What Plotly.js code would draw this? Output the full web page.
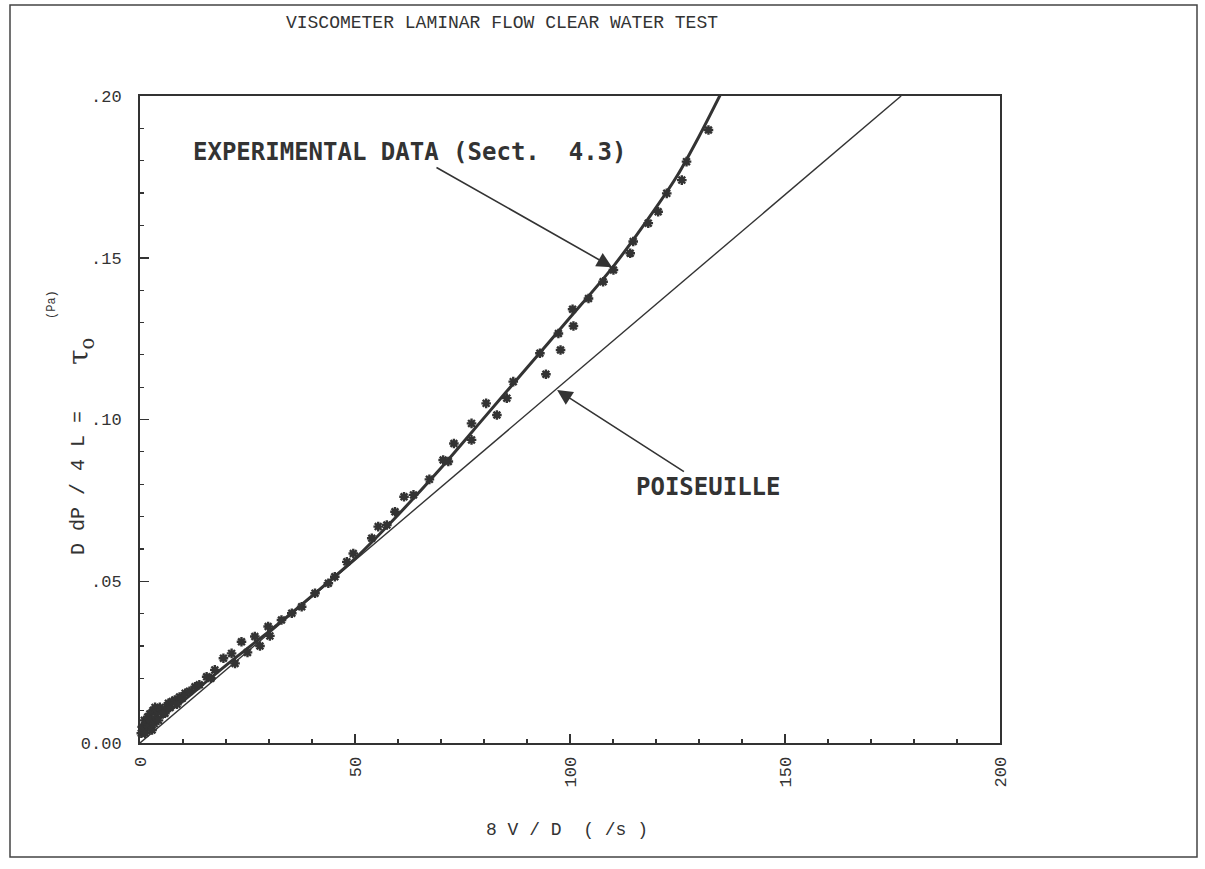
<!DOCTYPE html>
<html>
<head>
<meta charset="utf-8">
<script src="https://cdn.plot.ly/plotly-3.0.1.min.js"></script>
<style>
  html, body { margin: 0; padding: 0; background: #ffffff; }
  #chart { width: 1205px; height: 869px; }
</style>
</head>
<body>
<div id="chart"></div>
<script>
// Measured wall shear stress vs. flow rate parameter (clear water, laminar)
const dataX = [0.3, 0.5, 0.8, 1.0, 1.2, 1.5, 1.8, 2.0, 2.3, 2.5, 2.8, 3.0, 3.3, 3.5, 3.8, 4.0, 4.3, 4.6,
  5.0, 5.3, 5.8, 6.2, 6.6, 7.0, 7.5, 8.1, 8.6, 9.2, 9.8, 10.5, 11.5, 12.8, 13.8, 15.5, 16.5, 17.4,
  19.4, 21.3, 22.1, 23.6, 25.0, 26.7, 27.9, 29.8, 30.2, 32.9, 35.3, 37.6, 40.7, 43.8, 45.3, 48.1,
  49.6, 53.9, 55.4, 57.4, 59.3, 61.4, 63.6, 67.3, 70.5, 71.7, 73.0, 77.1, 77.1, 80.5, 83.0, 85.3,
  86.8, 93.0, 94.4, 97.3, 97.8, 100.6, 100.8, 104.3, 107.7, 110.1, 114.0, 114.7, 118.2, 120.5,
  122.5, 126.0, 127.1, 132.2, 134.9];
const dataY = [0.003, 0.005, 0.004, 0.007, 0.003, 0.006, 0.008, 0.005, 0.009, 0.007, 0.004, 0.010, 0.006, 0.011, 0.008, 0.010, 0.007, 0.011,
  0.0102, 0.009, 0.0092, 0.011, 0.0123, 0.011, 0.0128, 0.0133, 0.012, 0.0142, 0.0138, 0.0154, 0.016, 0.0174, 0.018, 0.0205, 0.020, 0.0226,
  0.0262, 0.0277, 0.0246, 0.0313, 0.028, 0.0329, 0.0300, 0.0360, 0.0331, 0.0380, 0.0401, 0.0421, 0.0463, 0.0494, 0.0514, 0.0560,
  0.0586, 0.0633, 0.0669, 0.0674, 0.0715, 0.0761, 0.0767, 0.0815, 0.0875, 0.0870, 0.0926, 0.0937, 0.0988, 0.1050, 0.1014, 0.1066,
  0.1117, 0.1205, 0.1140, 0.1266, 0.1215, 0.1341, 0.1289, 0.1374, 0.1426, 0.1462, 0.1514, 0.1550, 0.1607, 0.1642,
  0.1699, 0.1740, 0.1797, 0.1895, 0.2003];

// Smooth curve through the experimental data
const curveX = [0, 5, 10, 15, 20, 30, 40, 50, 60, 70, 80, 90, 100, 110, 120, 125, 130, 135];
const curveY = [0.003, 0.0082, 0.013, 0.0185, 0.024, 0.0345, 0.0455, 0.0570, 0.0705, 0.0850, 0.1005, 0.1160, 0.1315, 0.1472, 0.1655, 0.1755, 0.1875, 0.2005];

// Poiseuille (Newtonian laminar) line
const poisX = [0, 177];
const poisY = [0, 0.2];

// Axis ticks
const xTickVals = [0, 50, 100, 150, 200];
const xTickText = ['0', '50', '100', '150', '200'];
const yTickVals = [0, 0.05, 0.10, 0.15, 0.20];
const yTickText = ['0.00', '.05', '.10', '.15', '.20'];

const ink = '#333333';
const mono = '"Liberation Mono", "DejaVu Sans Mono", monospace';
const monoBold = '"DejaVu Sans Mono", "Liberation Mono", monospace';

// plot-area geometry helpers (pixels -> paper fractions)
const L = 140, R = 1000, T = 96, B = 743;
const px = v => (v - L) / (R - L);
const py = v => (B - v) / (B - T);

const traces = [
  {
    x: poisX, y: poisY, type: 'scatter', mode: 'lines',
    line: { color: ink, width: 1.4 }, hoverinfo: 'skip'
  },
  {
    x: curveX, y: curveY, type: 'scatter', mode: 'lines',
    line: { color: ink, width: 3, shape: 'spline', smoothing: 0.8 }, hoverinfo: 'skip'
  },
  {
    x: dataX, y: dataY, type: 'scatter', mode: 'markers', cliponaxis: false,
    marker: { symbol: 'asterisk', size: 8, color: ink, line: { color: ink, width: 2.4 } }
  }
];

const layout = {
  width: 1205, height: 869,
  margin: { l: L, r: 1205 - R, t: T, b: 869 - B },
  paper_bgcolor: '#ffffff', plot_bgcolor: '#ffffff',
  showlegend: false,
  font: { family: mono, color: ink },
  title: {
    text: 'VISCOMETER LAMINAR FLOW CLEAR WATER TEST',
    font: { family: mono, size: 18, color: ink },
    x: 502 / 1205, xanchor: 'center', y: 1 - 22 / 869, yanchor: 'middle'
  },
  xaxis: {
    range: [0, 200], showgrid: false, zeroline: false,
    showline: true, linecolor: ink, linewidth: 2, mirror: true,
    ticks: 'inside', ticklen: 9, tickwidth: 1.5, tickcolor: ink,
    tickvals: xTickVals, ticktext: xTickText, tickangle: -90,
    ticklabelstandoff: 5,
    tickfont: { family: mono, size: 17, color: ink },
    minor: { dtick: 10, ticks: 'inside', ticklen: 4, tickcolor: ink, tickwidth: 1.2 }
  },
  yaxis: {
    range: [0, 0.2], showgrid: false, zeroline: false,
    showline: true, linecolor: ink, linewidth: 2, mirror: true,
    ticks: 'inside', ticklen: 9, tickwidth: 1.5, tickcolor: ink,
    tickvals: yTickVals, ticktext: yTickText,
    ticklabelstandoff: 13,
    tickfont: { family: mono, size: 17, color: ink },
    minor: { dtick: 0.01, ticks: 'inside', ticklen: 4, tickcolor: ink, tickwidth: 1.2 }
  },
  annotations: [
    {
      xref: 'paper', yref: 'paper', x: px(567), y: py(830),
      xanchor: 'center', yanchor: 'middle',
      text: '8 V / D  ( /s )', showarrow: false,
      font: { family: mono, size: 18, color: ink }
    },
    {
      xref: 'paper', yref: 'paper', x: px(78), y: py(483),
      xanchor: 'center', yanchor: 'middle',
      text: 'D dP / 4 L =', textangle: -90, showarrow: false,
      font: { family: mono, size: 20, color: ink }
    },
    {
      xref: 'paper', yref: 'paper', x: px(80), y: py(352),
      xanchor: 'center', yanchor: 'middle',
      text: 'τ<sub>o</sub>', textangle: -90, showarrow: false,
      font: { family: '"DejaVu Serif", serif', size: 28, color: ink }
    },
    {
      xref: 'paper', yref: 'paper', x: px(52), y: py(305),
      xanchor: 'center', yanchor: 'middle',
      text: '(Pa)', textangle: -90, showarrow: false,
      font: { family: mono, size: 12, color: ink }
    },
    {
      // label with its arrow pointing at the fitted curve
      x: 109.8, y: 0.1471, axref: 'x', ayref: 'y', ax: 62.6, ay: 0.1827,
      text: '<b>EXPERIMENTAL DATA (Sect.  4.3)</b>',
      font: { family: monoBold, size: 24, color: ink },
      showarrow: true, arrowhead: 2, arrowsize: 1.9, arrowwidth: 1.6, arrowcolor: ink
    },
    {
      // label with its arrow pointing at the Poiseuille line
      x: 97.0, y: 0.1091, axref: 'x', ayref: 'y', ax: 132.1, ay: 0.0791,
      text: '<b>POISEUILLE</b>',
      font: { family: monoBold, size: 24, color: ink },
      showarrow: true, arrowhead: 2, arrowsize: 1.9, arrowwidth: 1.6, arrowcolor: ink
    }
  ],
  shapes: [
    {
      type: 'rect', xref: 'paper', yref: 'paper',
      x0: px(10), x1: px(1197), y0: py(857), y1: py(5),
      line: { color: '#444444', width: 1.5 }
    }
  ]
};

Plotly.newPlot('chart', traces, layout, { displayModeBar: false, staticPlot: true });
</script>
</body>
</html>
